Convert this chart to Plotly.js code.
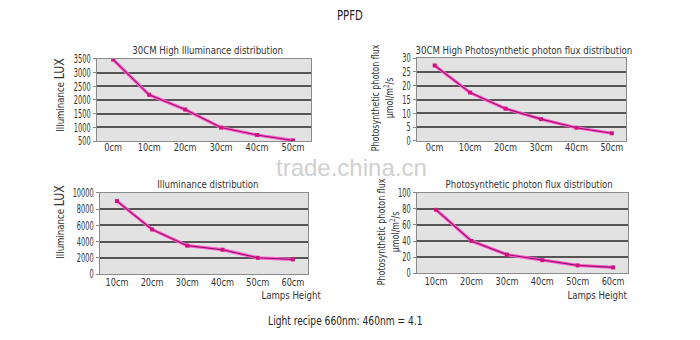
<!DOCTYPE html>
<html><head><meta charset="utf-8">
<script src="https://cdn.plot.ly/plotly-3.0.1.min.js"></script>
<style>html,body{margin:0;padding:0;background:#fff}#chart{width:700px;height:340px}</style>
</head><body><div id="chart"></div>
<script>
var heights30 = ['0cm','10cm','20cm','30cm','40cm','50cm'];
var heights = ['10cm','20cm','30cm','40cm','50cm','60cm'];
var lux30 = [3480, 2190, 1650, 990, 720, 520];
var ppfd30 = [27.3, 17.5, 11.7, 7.9, 4.8, 2.8];
var lux = [9000, 5500, 3500, 3000, 2000, 1800];
var ppfd = [79, 40, 23, 16, 9.5, 7];

var FONT = 'DejaVu Sans, sans-serif';
var glow = '#ff5ccf', dark = '#9a1262', mk = '#d0147f';

function pair(x, y, xa, ya) {
  return [
    {x: x, y: y, xaxis: xa, yaxis: ya, mode: 'lines', type: 'scatter',
     line: {color: glow, width: 3.2}, hoverinfo: 'skip', showlegend: false},
    {x: x, y: y, xaxis: xa, yaxis: ya, mode: 'lines+markers', type: 'scatter',
     line: {color: dark, width: 1.1}, marker: {symbol: 'square', size: 4, color: mk},
     showlegend: false}
  ];
}
var data = [].concat(
  pair(heights30, lux30, 'x', 'y'),
  pair(heights30, ppfd30, 'x2', 'y2'),
  pair(heights, lux, 'x3', 'y3'),
  pair(heights, ppfd, 'x4', 'y4')
);

function xax(domain, range, anchor, standoff) {
  return {domain: domain, anchor: anchor, type: 'category', range: range,
    showgrid: false, zeroline: false, showline: true, mirror: true,
    linecolor: '#8a8a8a', linewidth: 1, ticks: '', ticklen: 0, ticklabelstandoff: standoff,
    tickfont: {family: FONT, size: 10, color: '#333'}};
}
function yax(domain, range, dtick, anchor) {
  return {domain: domain, anchor: anchor, range: range, dtick: dtick, tickformat: 'd',
    showgrid: true, gridcolor: '#555555', gridwidth: 2, zeroline: false,
    showline: true, mirror: true, linecolor: '#8a8a8a', linewidth: 1,
    ticks: 'outside', ticklen: 3, tickcolor: '#888',
    tickfont: {family: FONT, size: 12, color: '#333'}};
}
var pfTitle = 'Photosynthetic photon flux<br>μmol/m<sup>2</sup>/s';
var luxTitle = 'Illuminance <span style="font-size:14px">LUX</span>';
var layout = {
  width: 700, height: 340,
  margin: {l: 0, r: 0, t: 0, b: 0},
  paper_bgcolor: '#ffffff', plot_bgcolor: '#e2e2e2',
  font: {family: FONT, color: '#333'},
  xaxis: xax([0.1386, 0.4443], [-0.45, 5.5], 'y', -3),
  yaxis: yax([0.5853, 0.8265], [500, 3500], 500, 'x'),
  xaxis2: xax([0.5957, 0.8943], [-0.5, 5.4], 'y2', -3),
  yaxis2: yax([0.5853, 0.8294], [0, 30], 5, 'x2'),
  xaxis3: xax([0.1429, 0.44], [-0.48, 5.43], 'y3', -1),
  yaxis3: yax([0.1941, 0.4324], [0, 10000], 2000, 'x3'),
  xaxis4: xax([0.5957, 0.8971], [-0.54, 5.42], 'y4', -1),
  yaxis4: yax([0.197, 0.4324], [0, 100], 20, 'x4'),
  annotations: [
    {text: 'PPFD', x: 0.5, y: 1 - 15 / 340, font: {family: FONT, size: 14, color: '#222'}},
    {text: 'trade.china.cn', x: 351/700, y: 1 - 167/340,
     font: {family: 'Liberation Sans, Arial, sans-serif', size: 24, color: '#d0d0d0'}},
    {text: '30CM High Illuminance distribution', x: 207/700, y: 1 - 50/340},
    {text: '30CM High Photosynthetic photon flux distribution', x: 524/700, y: 1 - 50/340},
    {text: 'Illuminance distribution', x: 208/700, y: 1 - 185/340},
    {text: 'Photosynthetic photon flux distribution', x: 529/700, y: 1 - 184/340},
    {text: 'Lamps Height', x: 291/700, y: 1 - 295/340},
    {text: 'Lamps Height', x: 597/700, y: 1 - 295/340},
    {text: 'Light recipe 660nm: 460nm = 4.1', x: 345/700, y: 1 - 320/340, font: {family: FONT, size: 13, color: '#222'}},
    {text: luxTitle, x: 59/700, y: 1 - 95/340, textangle: -90},
    {text: luxTitle, x: 59/700, y: 1 - 222/340, textangle: -90},
    {text: pfTitle, x: 383/700, y: 1 - 98/340, textangle: -90},
    {text: pfTitle, x: 388/700, y: 1 - 232/340, textangle: -90}
  ].map(function (a) {
    return Object.assign({xref: 'paper', yref: 'paper', showarrow: false, xanchor: 'center', yanchor: 'middle',
      font: {family: FONT, size: 11, color: '#333'}}, a);
  })
};

// narrow the glyphs to imitate the reference's condensed typeface
function squeeze(el, k) {
  var len = el.getComputedTextLength();
  if (!len) return;
  el.setAttribute('textLength', (len * k).toFixed(2));
  el.setAttribute('lengthAdjust', 'spacingAndGlyphs');
}
function condense() {
  var root = document.getElementById('chart');
  root.querySelectorAll('.ytick text, .y2tick text, .y3tick text, .y4tick text').forEach(function (t) { squeeze(t, 0.55); });
  root.querySelectorAll('.xtick text, .x2tick text, .x3tick text, .x4tick text').forEach(function (t) { squeeze(t, 0.82); });
  root.querySelectorAll('.annotation-text').forEach(function (t) {
    var s = t.textContent;
    if (s === 'trade.china.cn') return;
    var k = 0.78;
    if (s === 'PPFD') k = 0.72;
    if (s.indexOf('Light recipe') === 0) k = 0.7;
    var lines = t.querySelectorAll('tspan.line');
    if (lines.length) lines.forEach(function (l) { squeeze(l, 0.72); });
    else squeeze(t, k);
  });
}
Plotly.newPlot('chart', data, layout, {displayModeBar: false, staticPlot: true}).then(condense);
</script></body></html>
